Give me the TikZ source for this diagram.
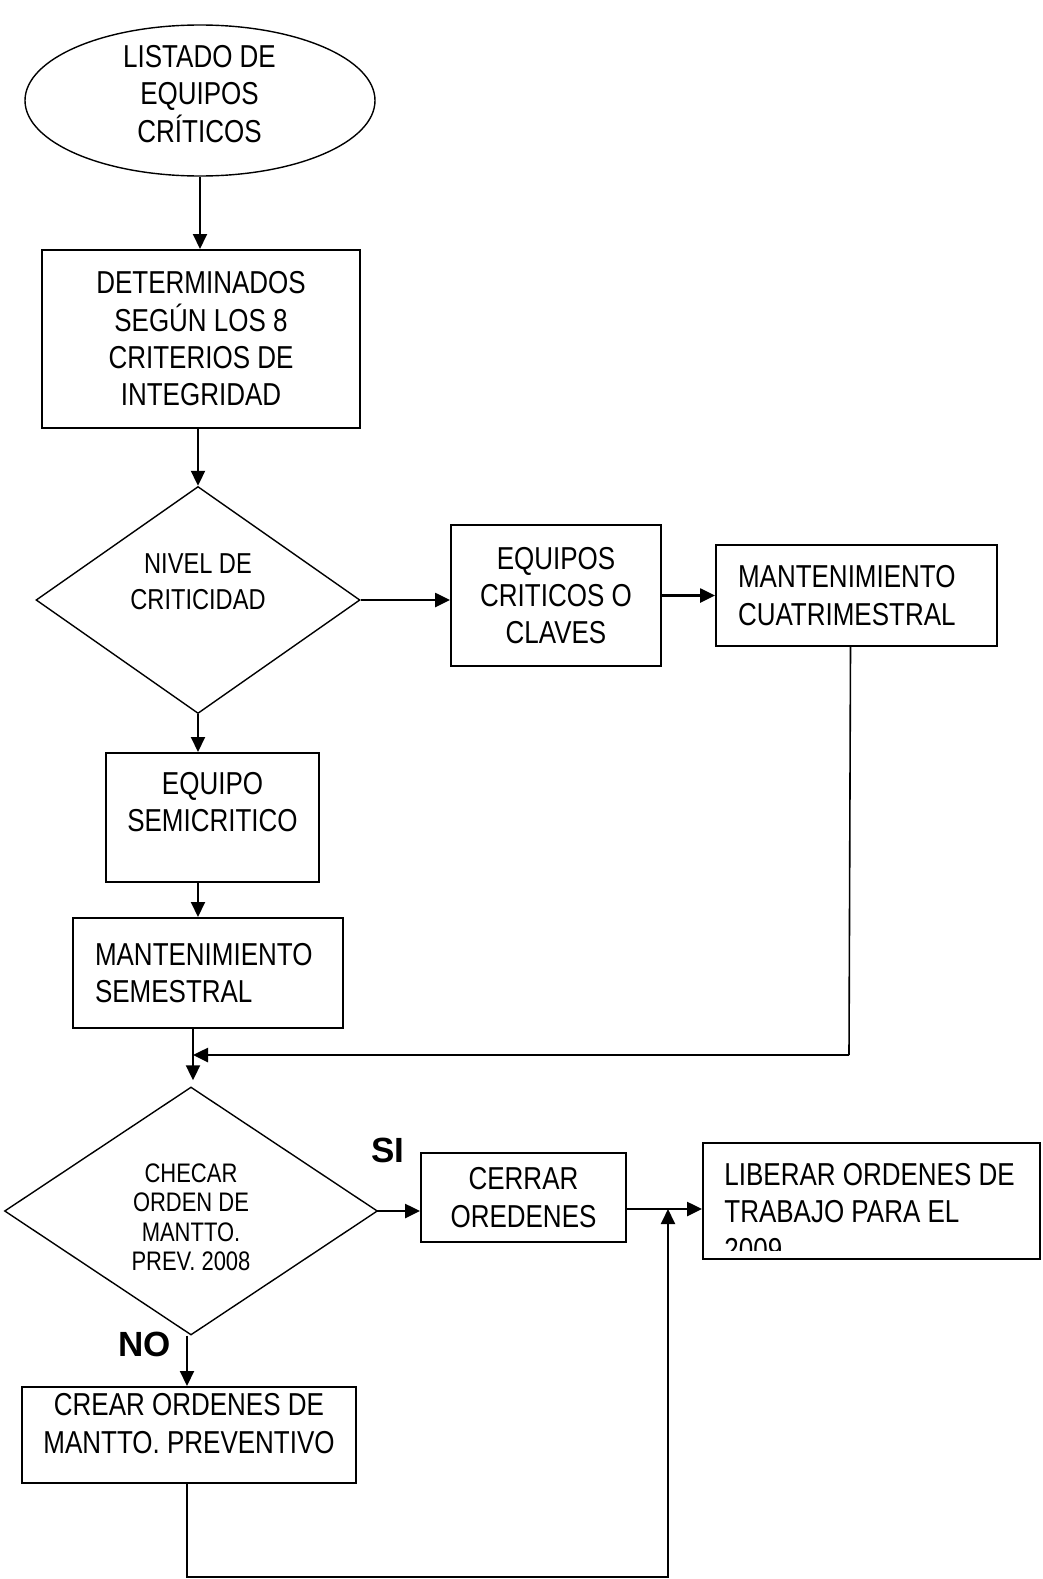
\documentclass[tikz,border=0pt]{standalone}
\usepackage{fontspec}
\setmainfont{Liberation Sans}[FakeStretch=0.82]
\newfontfamily\yesnofont{Liberation Sans}
\usetikzlibrary{shapes,arrows.meta,calc}

\begin{document}
\begin{tikzpicture}[x=0.5pt,y=-0.5pt,
  txt/.style={align=center,inner sep=0pt,font=\fontsize{15.85}{18.65}\selectfont},
  box/.style={draw,line width=1pt,inner sep=0pt,txt},
  dec/.style={draw,diamond,line width=0.7pt,inner sep=0pt},
  yn/.style={inner sep=0pt,font=\yesnofont\bfseries\fontsize{17.5}{20}\selectfont},
  arr/.style={line width=1pt,-{Triangle[length=7.5pt,width=7pt]}},
  harr/.style={arr,line width=1.3pt}]
\useasboundingbox (0,0) rectangle (1043,1579);

\node[draw,ellipse,line width=0.7pt,minimum width=175pt,minimum height=75.5pt] (list) at (200,100.5) {};
\node[txt] (listT) at (199.5,94) {LISTADO DE\\EQUIPOS\\CRÍTICOS};
\node[box,minimum width=159pt,minimum height=89pt] (det) at (201,339) {DETERMINADOS\\SEGÚN LOS 8\\CRITERIOS DE\\INTEGRIDAD};
\node[dec,minimum width=162pt,minimum height=113.5pt] (crit) at (198,600) {};
\node[txt,font=\fontsize{14.4}{18.1}\selectfont] (critT) at (198,582) {NIVEL DE\\CRITICIDAD};
\node[box,minimum width=105pt,minimum height=70.5pt] (clave) at (556,595.5) {EQUIPOS\\CRITICOS O\\CLAVES};
\node[box,align=left,text width=118.5pt,minimum width=140.5pt,minimum height=50.5pt] (cuatri) at (856.5,595.5) {MANTENIMIENTO\\CUATRIMESTRAL};
\node[box,minimum width=106.5pt,minimum height=64.5pt] (semi) at (212.5,817.5) {};
\node[txt] (semiT) at (212.5,802) {EQUIPO\\SEMICRITICO};
\node[box,align=left,text width=113pt,minimum width=135pt,minimum height=55pt] (semest) at (208,973) {MANTENIMIENTO\\SEMESTRAL};
\coordinate (fb) at (849,1055);

\node[dec,minimum width=186.5pt,minimum height=124pt] (check) at (191,1211) {};
\node[txt,font=\fontsize{13.4}{14.75}\selectfont] (checkT) at (191,1217.5) {CHECAR\\ORDEN DE\\MANTTO.\\PREV. 2008};
\node[yn] (si) at (388,1150) {SI};
\node[yn] (no) at (144.5,1344) {NO};
\node[box,minimum width=102.5pt,minimum height=44.5pt] (cerrar) at (523.5,1197.5) {CERRAR\\OREDENES};
\begin{scope}
\clip (703,1143) rectangle (1040,1250);
\node[txt,align=left,anchor=west] (liberarT) at (724,1212) {LIBERAR ORDENES DE\\TRABAJO PARA EL\\2009};
\end{scope}
\node[box,minimum width=168.5pt,minimum height=58pt] (liberar) at (871.5,1201) {};
\node[box,minimum width=167pt,minimum height=48pt] (crear) at (189,1435) {};
\node[txt] (crearT) at (189,1423.5) {CREAR ORDENES DE\\MANTTO. PREVENTIVO};
\coordinate (join) at (668,1209);

\draw[arr] (list.south) -- (list.south |- det.north);
\draw[arr] (crit.north |- det.south) -- (crit.north);
\draw[harr] (crit.east) -- (crit.east -| clave.west);
\draw[harr] (clave.east) -- (clave.east -| cuatri.west);
\draw[arr] (crit.south) -- (crit.south |- semi.north);
\draw[arr] (crit.south |- semi.south) -- (crit.south |- semest.north);
\draw[arr] ([xshift=1pt]check.north |- semest.south) -- ([xshift=1pt,yshift=3pt]check.north);
% vuelta del cuatrimestral
\draw[line width=0.8pt] ([xshift=-3pt]cuatri.south) -- (fb);
\draw[harr] (fb) -- ([xshift=1pt]fb -| check.north);

\draw[harr] ([xshift=-1pt]check.east) -- (check.east -| cerrar.west);
\draw[harr] (cerrar.east |- join) -- (liberar.west |- join);
\draw[arr] ([xshift=-2pt]check.south) -- ([xshift=-2pt]check.south |- crear.north);
\draw[arr] ([xshift=-1pt]crear.south) -- ++(0,93) -| (join);
\end{tikzpicture}
\end{document}
